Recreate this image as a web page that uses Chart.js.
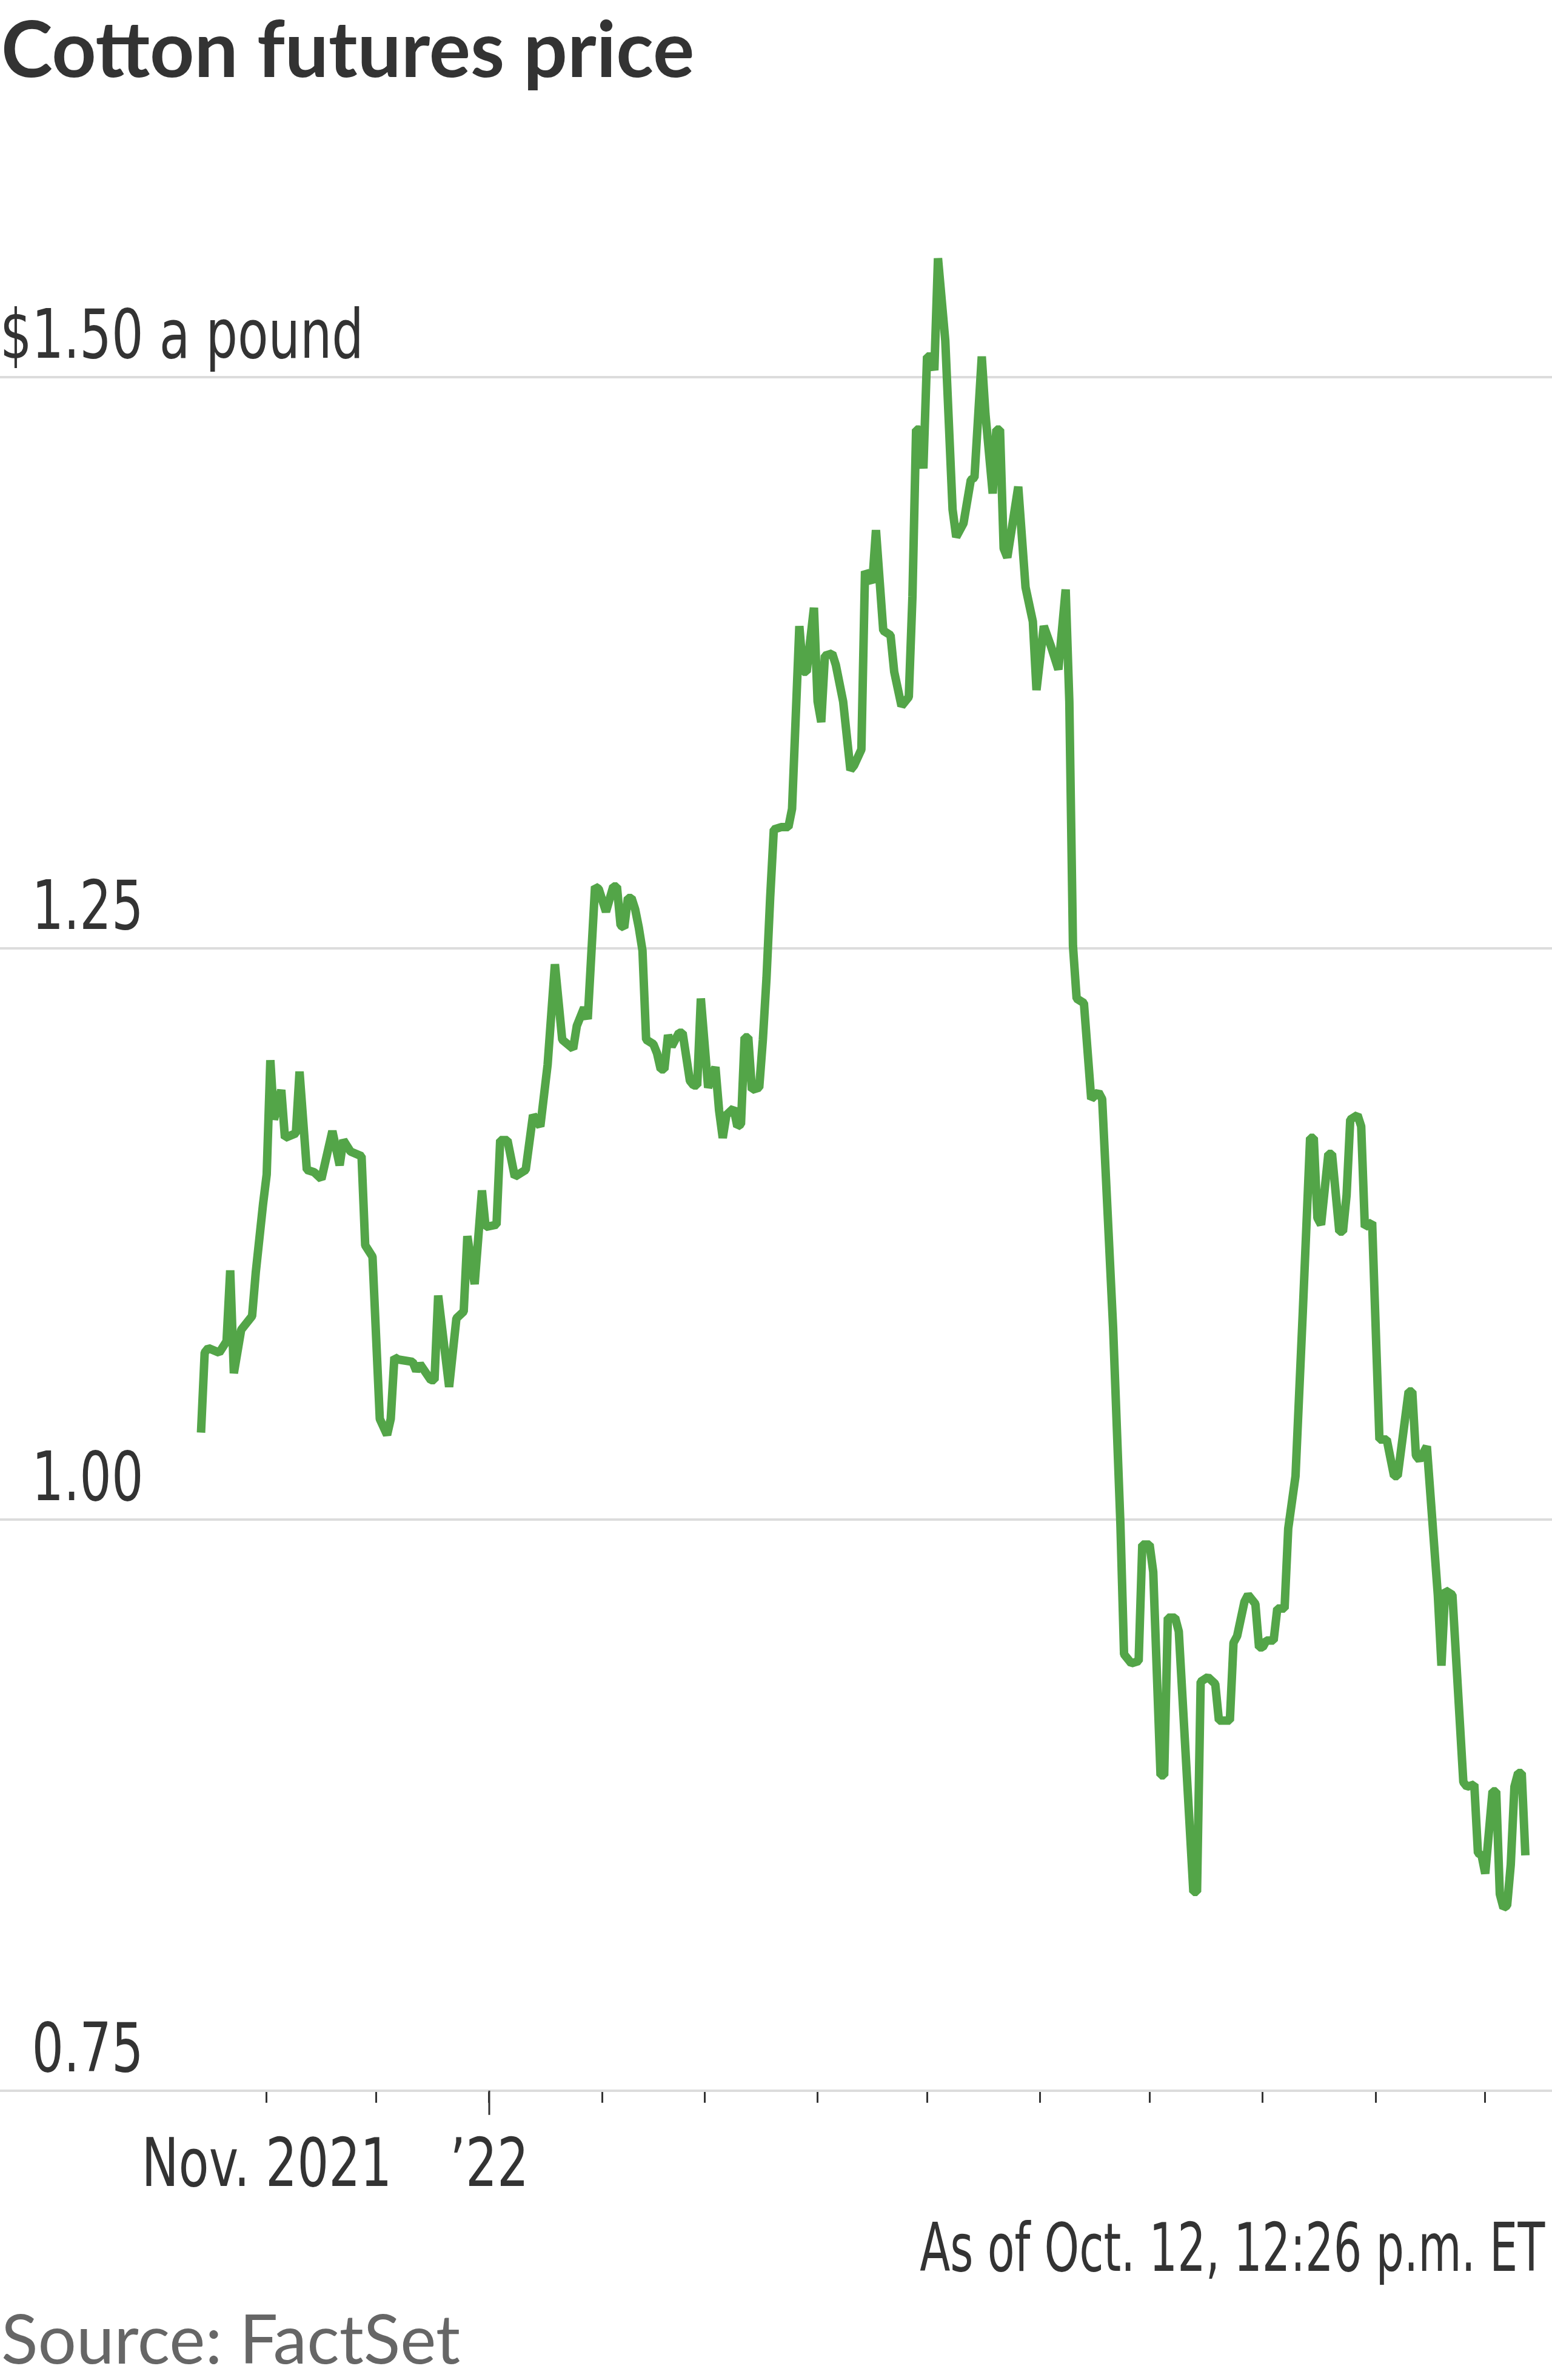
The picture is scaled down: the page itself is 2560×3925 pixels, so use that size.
<!DOCTYPE html>
<html>
<head>
<meta charset="utf-8">
<script src="https://cdn.jsdelivr.net/npm/chart.js@4.4.1/dist/chart.umd.min.js"></script>
<style>
  html, body { margin: 0; padding: 0; background: #ffffff; }
  body { width: 2560px; height: 3925px; position: relative; overflow: hidden; }
  #title { position: absolute; left: 2px; top: 14px; font-family: Lato, 'Noto Sans', sans-serif; font-weight: 700; font-size: 128px; line-height: 128px; color: #333333; white-space: nowrap; }
  #asof { position: absolute; right: 12px; top: 3652px; font-family: 'DejaVu Sans Condensed', 'DejaVu Sans', sans-serif; font-size: 110px; line-height: 110px; color: #333333; white-space: nowrap; transform: scaleX(0.74); transform-origin: right center; }
  #source { position: absolute; left: 2px; top: 3799px; font-family: Lato, 'Noto Sans', sans-serif; font-size: 112px; line-height: 112px; color: #666666; white-space: nowrap; }
  #wrap { position: absolute; left: 0; top: 245px; width: 2560px; height: 3440px; }
</style>
</head>
<body>
<div id="title">Cotton futures price</div>
<div id="wrap"><canvas id="c"></canvas></div>
<div id="asof">As of Oct. 12, 12:26 p.m. ET</div>
<div id="source">Source: FactSet</div>
<script>
// ---- data ----
const dates = [
  '2021-10-14','2021-10-15','2021-10-16','2021-10-19','2021-10-21','2021-10-22','2021-10-23','2021-10-25','2021-10-28','2021-10-29',
  '2021-10-31','2021-11-01','2021-11-02','2021-11-03','2021-11-05','2021-11-06','2021-11-09','2021-11-10','2021-11-12','2021-11-14',
  '2021-11-16','2021-11-19','2021-11-21','2021-11-22','2021-11-24','2021-11-27','2021-11-28','2021-11-30','2021-12-02','2021-12-04',
  '2021-12-05','2021-12-06','2021-12-07','2021-12-11','2021-12-12','2021-12-13','2021-12-16','2021-12-17','2021-12-18','2021-12-21',
  '2021-12-23','2021-12-25','2021-12-26','2021-12-28','2021-12-30','2021-12-31','2022-01-03','2022-01-04','2022-01-06','2022-01-08',
  '2022-01-11','2022-01-13','2022-01-15','2022-01-17','2022-01-19','2022-01-21','2022-01-24','2022-01-25','2022-01-27','2022-01-28',
  '2022-01-30','2022-01-31','2022-02-02','2022-02-04','2022-02-05','2022-02-06','2022-02-07','2022-02-08','2022-02-09','2022-02-10',
  '2022-02-11','2022-02-12','2022-02-13','2022-02-15','2022-02-16','2022-02-17','2022-02-18','2022-02-19','2022-02-20','2022-02-22',
  '2022-02-23','2022-02-25','2022-02-26','2022-02-27','2022-02-28','2022-03-02','2022-03-04','2022-03-05','2022-03-06','2022-03-07',
  '2022-03-09','2022-03-10','2022-03-11','2022-03-12','2022-03-13','2022-03-14','2022-03-16','2022-03-17','2022-03-18','2022-03-19',
  '2022-03-20','2022-03-22','2022-03-24','2022-03-25','2022-03-27','2022-03-28','2022-03-29','2022-03-31','2022-04-01','2022-04-02',
  '2022-04-03','2022-04-05','2022-04-06','2022-04-08','2022-04-10','2022-04-11','2022-04-13','2022-04-14','2022-04-16','2022-04-17',
  '2022-04-19','2022-04-21','2022-04-22','2022-04-24','2022-04-26','2022-04-27','2022-04-28','2022-04-29','2022-04-30','2022-05-01',
  '2022-05-02','2022-05-03','2022-05-04','2022-05-06','2022-05-08','2022-05-09','2022-05-11','2022-05-13','2022-05-14','2022-05-16',
  '2022-05-17','2022-05-19','2022-05-20','2022-05-21','2022-05-22','2022-05-23','2022-05-26','2022-05-28','2022-05-30','2022-05-31',
  '2022-06-02','2022-06-04','2022-06-06','2022-06-08','2022-06-09','2022-06-10','2022-06-11','2022-06-13','2022-06-15','2022-06-17',
  '2022-06-18','2022-06-21','2022-06-23','2022-06-24','2022-06-26','2022-06-28','2022-06-29','2022-07-01','2022-07-02','2022-07-04',
  '2022-07-05','2022-07-06','2022-07-08','2022-07-09','2022-07-13','2022-07-14','2022-07-15','2022-07-17','2022-07-19','2022-07-20',
  '2022-07-23','2022-07-24','2022-07-25','2022-07-27','2022-07-28','2022-07-30','2022-07-31','2022-08-01','2022-08-02','2022-08-04',
  '2022-08-05','2022-08-07','2022-08-08','2022-08-10','2022-08-12','2022-08-14','2022-08-15','2022-08-16','2022-08-17','2022-08-19',
  '2022-08-20','2022-08-22','2022-08-23','2022-08-24','2022-08-25','2022-08-27','2022-08-28','2022-08-29','2022-08-31','2022-09-02',
  '2022-09-04','2022-09-06','2022-09-07','2022-09-10','2022-09-11','2022-09-12','2022-09-13','2022-09-15','2022-09-18','2022-09-19',
  '2022-09-20','2022-09-22','2022-09-25','2022-09-26','2022-09-28','2022-09-29','2022-09-30','2022-10-01','2022-10-03','2022-10-04',
  '2022-10-05','2022-10-06','2022-10-07','2022-10-08','2022-10-09','2022-10-10','2022-10-11','2022-10-12'
];
const prices = [
  1.038,1.073,1.075,1.073,1.078,1.109,1.064,1.083,1.089,1.108,
  1.138,1.151,1.201,1.175,1.188,1.167,1.169,1.196,1.153,1.152,
  1.149,1.170,1.155,1.166,1.161,1.159,1.120,1.115,1.044,1.037,
  1.044,1.071,1.070,1.069,1.065,1.068,1.061,1.061,1.098,1.058,
  1.088,1.091,1.124,1.103,1.144,1.128,1.129,1.166,1.166,1.150,
  1.153,1.177,1.172,1.199,1.243,1.210,1.206,1.216,1.224,1.219,
  1.277,1.276,1.266,1.277,1.277,1.260,1.259,1.272,1.272,1.267,
  1.259,1.249,1.210,1.208,1.204,1.197,1.197,1.212,1.207,1.213,
  1.213,1.192,1.190,1.190,1.228,1.189,1.198,1.179,1.167,1.177,
  1.180,1.172,1.173,1.211,1.211,1.188,1.189,1.210,1.237,1.272,
  1.302,1.303,1.303,1.311,1.391,1.371,1.371,1.399,1.358,1.349,
  1.378,1.379,1.374,1.358,1.328,1.330,1.337,1.415,1.410,1.433,
  1.389,1.387,1.371,1.356,1.360,1.404,1.477,1.477,1.460,1.509,
  1.509,1.503,1.552,1.516,1.442,1.430,1.436,1.455,1.456,1.509,
  1.484,1.449,1.477,1.477,1.425,1.421,1.452,1.408,1.393,1.363,
  1.391,1.382,1.372,1.407,1.358,1.251,1.228,1.226,1.184,1.187,
  1.184,1.084,0.998,0.941,0.937,0.938,0.989,0.989,0.977,0.888,
  0.888,0.957,0.957,0.951,0.837,0.837,0.929,0.931,0.928,0.912,
  0.912,0.946,0.949,0.964,0.967,0.963,0.944,0.944,0.947,0.947,
  0.961,0.961,0.996,1.019,1.091,1.167,1.167,1.132,1.129,1.160,
  1.160,1.126,1.126,1.142,1.175,1.177,1.172,1.128,1.130,1.035,
  1.035,1.019,1.019,1.056,1.056,1.028,1.026,1.032,0.967,0.936,
  0.969,0.967,0.885,0.883,0.884,0.854,0.853,0.845,0.881,0.881,
  0.836,0.830,0.831,0.849,0.883,0.889,0.889,0.853
];
const monthTickDates = ['2021-11-01','2021-12-01','2022-01-01','2022-02-01','2022-03-01','2022-04-01',
                        '2022-05-01','2022-06-01','2022-07-01','2022-08-01','2022-09-01','2022-10-01'];
const monthTickLabels = ['Nov. 2021','','\u201922','','','','','','','','',''];
const yearTickDate = '2022-01-01';
const yTickValues = [0.75, 1.00, 1.25, 1.50];
const yUnitLabel = '$1.50 a pound';

// ---- helpers ----
const EPOCH = Date.UTC(2021, 10, 1);
function dayNum(s) {
  const [y, m, d] = s.split('-').map(Number);
  return (Date.UTC(y, m - 1, d) - EPOCH) / 86400000;
}
const points = dates.map((d, i) => ({ x: dayNum(d), y: prices[i] }));
const monthTickValues = monthTickDates.map(dayNum);

const NARROW = "'DejaVu Sans Condensed', 'DejaVu Sans', sans-serif";
const TEXT_SQUEEZE = 0.82;

// condensed look for the axis labels: squeeze glyphs horizontally around their anchor
const canvas = document.getElementById('c');
const ctx2d = canvas.getContext('2d');
const nativeFillText = ctx2d.fillText;
ctx2d.fillText = function (text, x, y, maxWidth) {
  this.save();
  this.translate(x, y);
  this.scale(TEXT_SQUEEZE, 1);
  if (maxWidth === undefined || maxWidth === null) nativeFillText.call(this, text, 0, 0);
  else nativeFillText.call(this, text, 0, 0, maxWidth / TEXT_SQUEEZE);
  this.restore();
};

const yearTickPlugin = {
  id: 'yearTick',
  afterDraw(chart) {
    const xs = chart.scales.x;
    const px = xs.getPixelForValue(dayNum(yearTickDate));
    const ctx = chart.ctx;
    ctx.save();
    ctx.strokeStyle = '#333333';
    ctx.lineWidth = 3;
    ctx.beginPath();
    ctx.moveTo(px, xs.top);
    ctx.lineTo(px, xs.top + 40);
    ctx.stroke();
    ctx.restore();
  }
};

new Chart(canvas, {
  type: 'line',
  data: {
    datasets: [{
      data: points,
      borderColor: '#53a548',
      borderWidth: 14,
      borderJoinStyle: 'bevel',
      pointRadius: 0,
      tension: 0,
      fill: false,
      clip: false
    }]
  },
  options: {
    responsive: true,
    maintainAspectRatio: false,
    animation: false,
    devicePixelRatio: 1,
    layout: { padding: 0 },
    plugins: { legend: { display: false }, tooltip: { enabled: false } },
    scales: {
      x: {
        type: 'linear',
        min: -73.1,
        max: 352.3,
        afterBuildTicks(scale) { scale.ticks = monthTickValues.map(v => ({ value: v })); },
        afterFit(scale) { scale.paddingLeft = 0; scale.paddingRight = 0; },
        border: { display: false },
        grid: { drawOnChartArea: false, drawTicks: true, tickLength: 20, tickColor: '#333333', tickWidth: 3 },
        ticks: {
          autoSkip: false, maxRotation: 0, minRotation: 0, padding: 42,
          color: '#333333',
          font: { family: NARROW, size: 111 },
          callback(value, index) { return monthTickLabels[index] || ''; }
        }
      },
      y: {
        type: 'linear',
        position: 'left',
        min: 0.75,
        max: 1.6,
        afterBuildTicks(scale) { scale.ticks = yTickValues.map(v => ({ value: v })); },
        afterFit(scale) { scale.paddingTop = 0; scale.paddingBottom = 0; },
        border: { display: false },
        grid: { drawTicks: false, color: '#dcdcdc', lineWidth: 4 },
        ticks: {
          mirror: true, padding: 0, labelOffset: -61, autoSkip: false,
          color: '#333333',
          font: { family: NARROW, size: 112 },
          callback(value) {
            if (value === 1.5) return yUnitLabel;
            return '\u2007' + value.toFixed(2);
          }
        }
      }
    }
  },
  plugins: [yearTickPlugin]
});
</script>
</body>
</html>
